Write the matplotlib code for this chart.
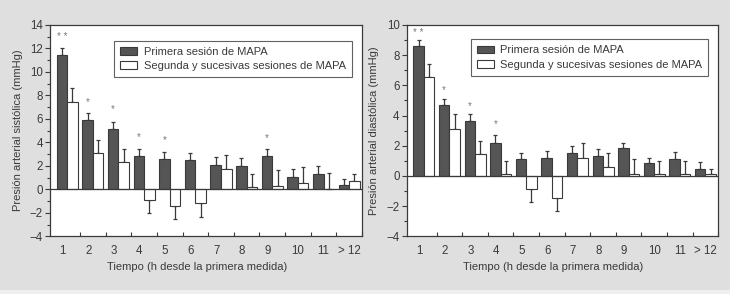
import numpy as np
import matplotlib
matplotlib.use("Agg")
import matplotlib.pyplot as plt
from matplotlib.patches import Rectangle

plt.rcParams["font.family"] = ["Liberation Sans", "DejaVu Sans"]

# datos (mmHg)
horas = ["1", "2", "3", "4", "5", "6", "7", "8", "9", "10", "11", "> 12"]

sis_primera = [11.45, 5.88, 5.17, 2.87, 2.61, 2.47, 2.1, 1.96, 2.81, 1.08, 1.31, 0.4]
sis_primera_err = [0.6, 0.63, 0.6, 0.57, 0.58, 0.63, 0.66, 0.68, 0.6, 0.66, 0.68, 0.49]
sis_segunda = [7.41, 3.07, 2.33, -0.9, -1.42, -1.19, 1.7, 0.2, 0.31, 0.54, 0.06, 0.74]
sis_segunda_err = [1.19, 1.16, 1.11, 1.14, 1.13, 1.14, 1.2, 1.11, 1.34, 1.37, 1.36, 0.54]
sis_estrellas = ["* *", "*", "*", "*", "*", "", "", "", "*", "", "", ""]
sis_estrellas_y = [13.0, 7.47, 6.81, 4.46, 4.17, 0, 0, 0, 4.4, 0, 0, 0]

dia_primera = [8.61, 4.7, 3.64, 2.21, 1.1, 1.22, 1.55, 1.32, 1.83, 0.84, 1.13, 0.46]
dia_primera_err = [0.39, 0.42, 0.43, 0.51, 0.45, 0.44, 0.44, 0.45, 0.36, 0.35, 0.44, 0.49]
dia_segunda = [6.54, 3.11, 1.42, 0.1, -0.86, -1.48, 1.22, 0.62, 0.1, 0.1, 0.1, 0.1]
dia_segunda_err = [0.9, 0.96, 0.92, 0.87, 0.88, 0.86, 0.93, 0.93, 1.03, 0.87, 0.89, 0.39]
dia_estrellas = ["* *", "*", "*", "*", "", "", "", "", "", "", "", ""]
dia_estrellas_y = [9.5, 5.72, 4.64, 3.42, 0, 0, 0, 0, 0, 0, 0, 0]

FONDO = "#dfdfdf"
OSCURO = "#555555"
BORDE = "#3a3a3a"
TEXTO = "#3a3a3a"
FS = 8


def grafico(ax, primera, primera_err, segunda, segunda_err, estrellas, estrellas_y,
            ylim, ylabel, leg_anchor):
    x = np.arange(len(horas))
    w = 0.41
    ax.bar(x - w / 2, primera, w, color=OSCURO, edgecolor=BORDE, linewidth=0.8,
           label="Primera sesión de MAPA", zorder=3)
    ax.bar(x + w / 2, segunda, w, color="white", edgecolor=BORDE, linewidth=0.8,
           label="Segunda y sucesivas sesiones de MAPA", zorder=3)

    # barras de error de un solo lado
    for xs, vals, errs in [(x - w / 2, primera, primera_err), (x + w / 2, segunda, segunda_err)]:
        vals = np.array(vals)
        errs = np.array(errs)
        lo = np.where(vals < 0, errs, 0)
        hi = np.where(vals >= 0, errs, 0)
        ax.errorbar(xs, vals, yerr=[lo, hi], fmt="none", ecolor=BORDE,
                    elinewidth=0.9, capsize=1.5, capthick=0.9, zorder=2)

    for xi, s, yv in zip(x, estrellas, estrellas_y):
        if s:
            ax.text(xi - w / 2, yv, s, ha="center", va="center", fontsize=7,
                    color="#7a7a7a")

    ax.axhline(0, color=BORDE, linewidth=0.9, zorder=4)
    ax.set_xlim(-0.67, len(horas) - 0.5)
    ax.set_ylim(*ylim)
    ax.set_yticks(np.arange(ylim[0], ylim[1] + 1, 2))
    ax.set_yticks(np.arange(ylim[0], ylim[1] + 1, 1), minor=True)

    # etiquetas x: las de una cifra algo a la izquierda
    pos = [xi - 0.18 if len(h) == 1 else xi for xi, h in zip(x, horas)]
    ax.set_xticks(pos)
    ax.set_xticklabels(horas)
    ax.set_xticks(x + 0.5, minor=True)
    ax.tick_params(axis="x", which="major", length=0, pad=6, labelsize=FS + 0.3,
                   labelcolor=TEXTO)
    ax.tick_params(axis="x", which="minor", direction="in", length=3,
                   color=BORDE, width=0.8)
    ax.tick_params(axis="y", which="major", length=3.5, width=0.8, color=BORDE,
                   pad=1.5, labelsize=FS + 0.3, labelcolor=TEXTO)
    ax.tick_params(axis="y", which="minor", length=2.5, width=0.8, color=BORDE)

    for sp in ax.spines.values():
        sp.set_color(BORDE)
        sp.set_linewidth(0.9)

    ax.set_xlabel("Tiempo (h desde la primera medida)", fontsize=FS, color=TEXTO)
    ax.xaxis.set_label_coords(0.47, -0.122)
    ax.set_ylabel(ylabel, fontsize=FS, color=TEXTO)
    ax.yaxis.set_label_coords(-0.088, 0.5)

    leg = ax.legend(loc="upper right", bbox_to_anchor=leg_anchor, borderaxespad=0,
                    fancybox=False, fontsize=FS, handlelength=1.55, handleheight=0.7,
                    handletextpad=0.55, labelspacing=0.38, borderpad=0.55)
    leg.get_frame().set_edgecolor(BORDE)
    leg.get_frame().set_linewidth(0.8)
    for t in leg.get_texts():
        t.set_color(TEXTO)


fig = plt.figure(figsize=(7.3, 2.94), dpi=100)
fig.patch.set_facecolor(FONDO)
fig.patches.append(Rectangle((0, 0), 1, 0.012, transform=fig.transFigure,
                             facecolor="#efefef", edgecolor="none"))

ax1 = fig.add_axes([0.0685, 0.1963, 0.4274, 0.7187])
ax2 = fig.add_axes([0.5571, 0.1963, 0.4268, 0.7187])

grafico(ax1, sis_primera, sis_primera_err, sis_segunda, sis_segunda_err,
        sis_estrellas, sis_estrellas_y, (-4, 14),
        "Presión arterial sistólica (mmHg)", (0.967, 0.926))
grafico(ax2, dia_primera, dia_primera_err, dia_segunda, dia_segunda_err,
        dia_estrellas, dia_estrellas_y, (-4, 10),
        "Presión arterial diastólica (mmHg)", (0.968, 0.932))

fig.savefig("out.png", dpi=100, facecolor=fig.get_facecolor())
